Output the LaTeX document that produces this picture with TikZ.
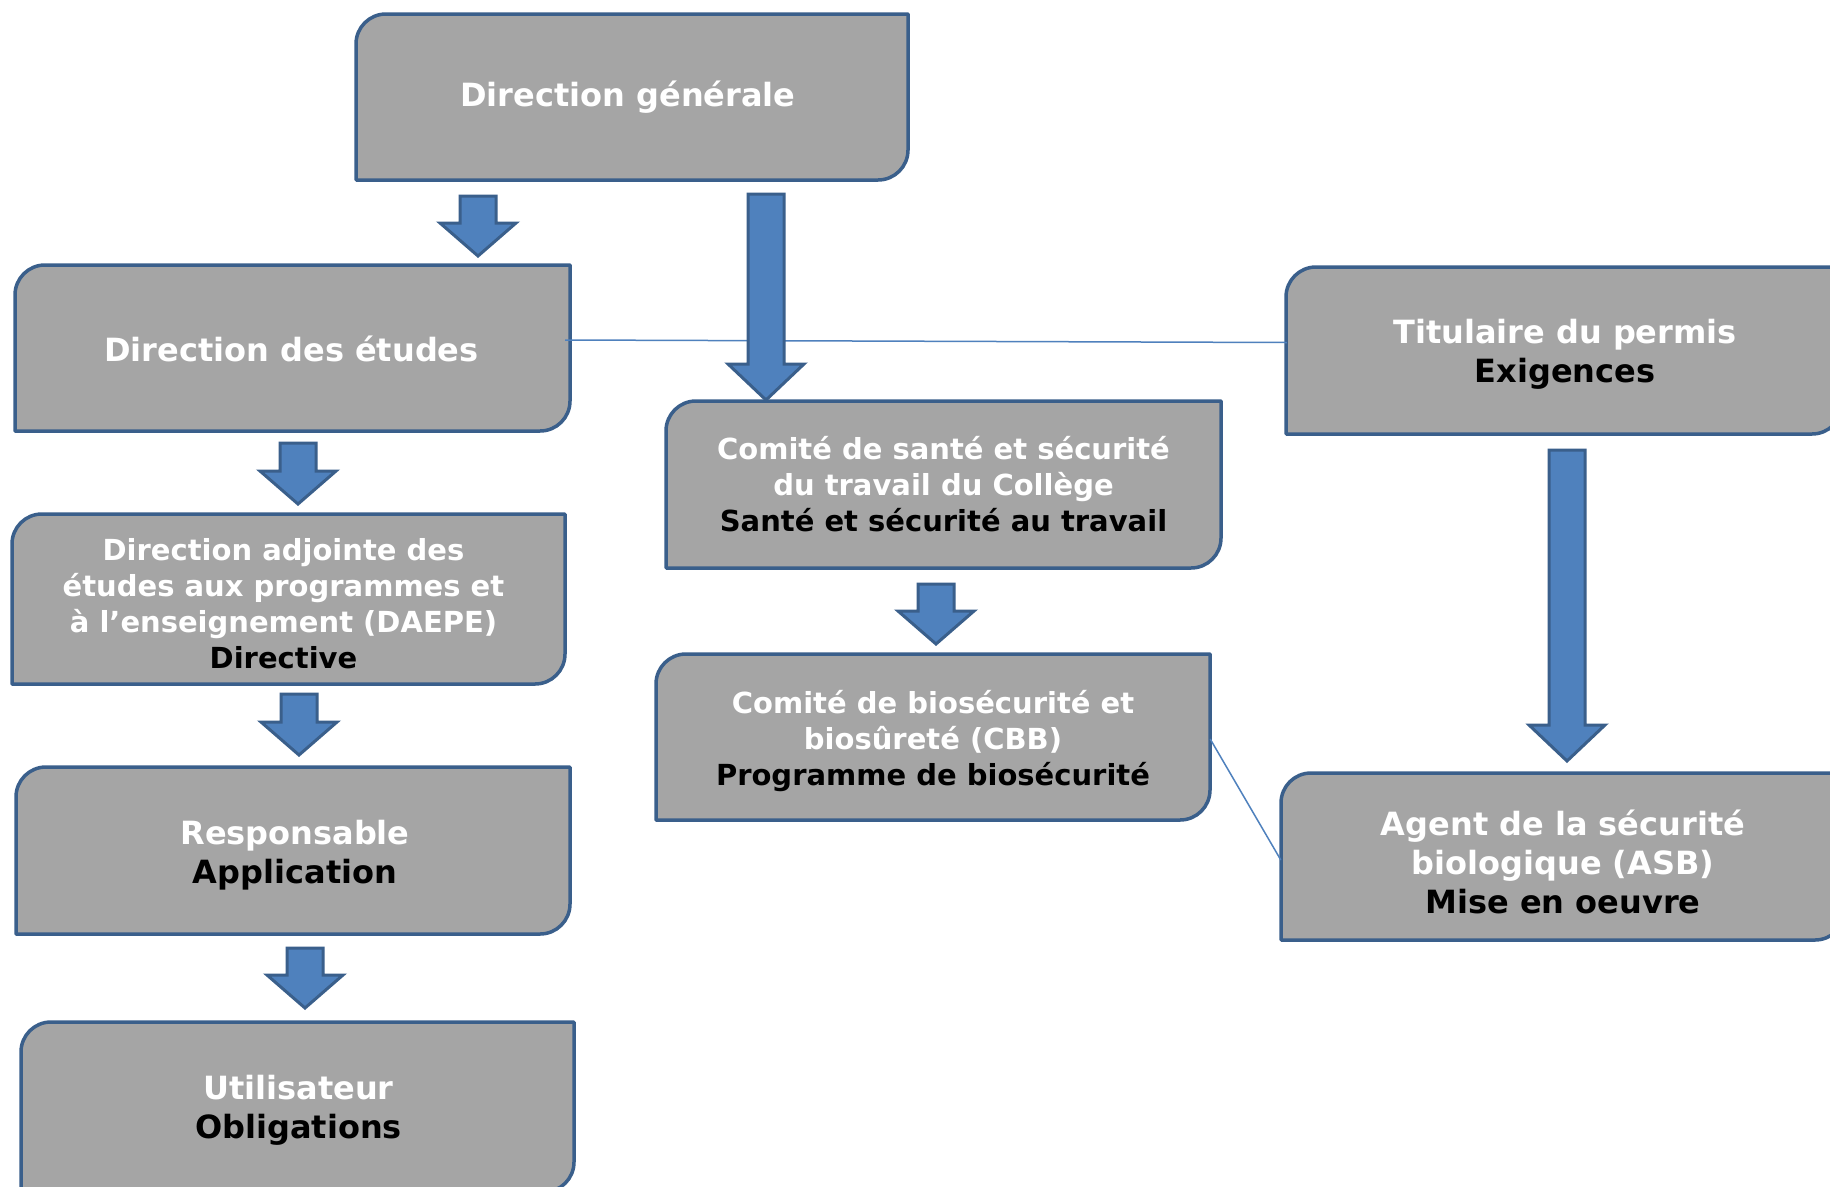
\documentclass[tikz,border=0pt]{standalone}
\usepackage{fontspec}
\setmainfont{DejaVu Sans}
\usetikzlibrary{backgrounds}
\definecolor{boxgrey}{HTML}{A5A5A5}
\definecolor{boxedge}{HTML}{3A5F8B}
\definecolor{arrowblue}{HTML}{4F81BD}
\tikzset{
  boxtext/.style={align=center, text=white, inner sep=0pt, font=\fontsize{32}{39}\selectfont\bfseries},
  smalltext/.style={align=center, text=white, inner sep=0pt, font=\fontsize{29}{36}\selectfont\bfseries},
  boxline/.style={draw=boxedge, fill=boxgrey, line width=3.5pt, line join=round},
  blockarrow/.style={draw=boxedge, fill=arrowblue, line width=3pt, line join=miter},
  thinlink/.style={draw=arrowblue, line width=1.5pt},
}
% name, x1, y1, x2, y2, style, text dx, text dy, text
\newcommand\diagbox[9]{%
  \node[#6, minimum width={(#4-#2)*1pt}, minimum height={(#5-#3)*1pt}] (#1) at ({(#2+#4)/2+#7},{(#3+#5)/2+#8}) {#9};
  \begin{scope}[on background layer]
    \draw[boxline] ({#2},{#5}) -- ({#2},{#3+30})
      .. controls ({#2},{#3+13.4}) and ({#2+13.4},{#3}) .. ({#2+30},{#3})
      -- ({#4},{#3}) -- ({#4},{#5-30})
      .. controls ({#4},{#5-13.4}) and ({#4-13.4},{#5}) .. ({#4-30},{#5})
      -- cycle;
  \end{scope}}
% cx, ytop, ytip, shaft width, head width, head height
\newcommand\barrow[6]{%
  \draw[blockarrow] ({#1-#4/2},#2) -- ({#1+#4/2},#2) -- ({#1+#4/2},{#3-#6}) -- ({#1+#5/2},{#3-#6})
    -- (#1,#3) -- ({#1-#5/2},{#3-#6}) -- ({#1-#4/2},{#3-#6}) -- cycle;}
\begin{document}
\begin{tikzpicture}[x=1pt, y=-1pt]
\useasboundingbox (0,0) rectangle (1830,1186);
\begin{scope}[on background layer]
  \fill[white] (0,0) rectangle (1830,1186);
\end{scope}

\diagbox{dg}{356}{14}{908}{180}{boxtext}{-4}{0}{Direction générale}
\diagbox{de}{15}{265}{570}{431}{boxtext}{-1}{1}{Direction des études}
\diagbox{tit}{1286}{267}{1842}{434}{boxtext}{1}{3.5}{Titulaire du permis\\{\color{black}Exigences}}
\diagbox{daepe}{12}{514}{565}{684}{smalltext}{-5}{4.5}{Direction adjointe des\\études aux programmes et\\à l’enseignement (DAEPE)\\{\color{black}Directive}}
\diagbox{resp}{16}{767}{570}{934}{boxtext}{2}{4.5}{Responsable\\{\color{black}Application}}
\diagbox{util}{21}{1022}{574}{1192}{boxtext}{1}{3.5}{Utilisateur\\{\color{black}Obligations}}
\diagbox{csst}{666}{401}{1221}{568}{smalltext}{0}{0}{Comité de santé et sécurité\\du travail du Collège\\{\color{black}Santé et sécurité au travail}}
\diagbox{cbb}{656}{654}{1210}{820}{smalltext}{0}{4.5}{Comité de biosécurité et\\biosûreté (CBB)\\{\color{black}Programme de biosécurité}}
\diagbox{asb}{1281}{773}{1845}{940}{boxtext}{0}{5.5}{Agent de la sécurité\\biologique (ASB)\\{\color{black}Mise en oeuvre}}

\draw[thinlink] ([xshift=-4pt,yshift=9pt]de.east) -- ([yshift=11.5pt]tit.west);
\draw[thinlink] ([yshift=2.5pt]cbb.east) -- ([yshift=2pt]asb.west);

\barrow{478}{196}{256}{36}{76}{33}
\barrow{766}{194}{400}{36}{76}{36}
\barrow{298}{443}{504}{36}{76}{33}
\barrow{299}{694}{755}{36}{76}{33}
\barrow{305}{948}{1008}{36}{76}{33}
\barrow{936}{584}{644}{36}{76}{33}
\barrow{1567}{450}{761}{36}{76}{36}
\end{tikzpicture}
\end{document}
